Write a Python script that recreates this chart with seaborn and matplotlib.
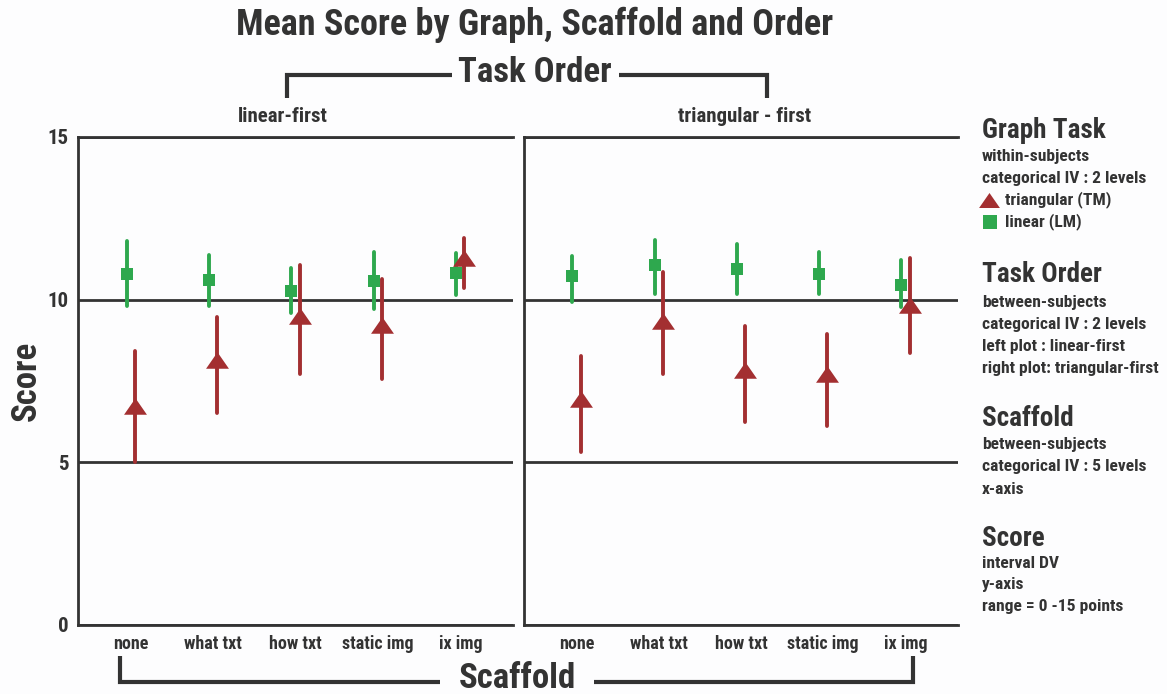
import numpy as np
import pandas as pd
import matplotlib
matplotlib.use("Agg")
import matplotlib.pyplot as plt
import seaborn as sns
from matplotlib.lines import Line2D

# ---------------- data ----------------
scaffolds = ["none", "what txt", "how txt", "static img", "ix img"]
orders = ["linear-first", "triangular - first"]
graphs = ["linear", "triangular"]

# linear-first panel
lin_mean_L = [10.80, 10.60, 10.27, 10.56, 10.83]
lin_low_L = [9.82, 9.82, 9.58, 9.70, 10.15]
lin_high_L = [11.79, 11.37, 10.96, 11.45, 11.43]
tri_mean_L = [6.73, 8.15, 9.50, 9.22, 11.27]
tri_low_L = [5.00, 6.51, 7.70, 7.56, 10.36]
tri_high_L = [8.41, 9.46, 11.06, 10.62, 11.89]

# triangular-first panel
lin_mean_R = [10.72, 11.08, 10.93, 10.78, 10.46]
lin_low_R = [9.92, 10.16, 10.16, 10.16, 9.77]
lin_high_R = [11.34, 11.84, 11.71, 11.45, 11.22]
tri_mean_R = [6.94, 9.33, 7.83, 7.73, 9.84]
tri_low_R = [5.31, 7.71, 6.25, 6.12, 8.36]
tri_high_R = [8.28, 10.85, 9.19, 8.93, 11.27]

yticks = [0, 5, 10, 15]

# ---------------- build long-form table ----------------
rows = []
series = {
    (orders[0], "linear"): (lin_low_L, lin_mean_L, lin_high_L),
    (orders[0], "triangular"): (tri_low_L, tri_mean_L, tri_high_L),
    (orders[1], "linear"): (lin_low_R, lin_mean_R, lin_high_R),
    (orders[1], "triangular"): (tri_low_R, tri_mean_R, tri_high_R),
}
for (o, g), (lo, mid, hi) in series.items():
    for s, a, b, c in zip(scaffolds, lo, mid, hi):
        for v in (a, b, c):
            rows.append({"order": o, "graph": g, "scaffold": s, "score": v})
df = pd.DataFrame(rows)

# ---------------- style ----------------
sns.set_theme(style="white")
plt.rcParams["font.family"] = ["Roboto Condensed", "IBM Plex Sans Condensed", "DejaVu Sans"]
plt.rcParams["font.weight"] = "bold"
TXT = "#333333"
GREEN = "#2ea84e"
RED = "#a32f31"
palette = {"linear": GREEN, "triangular": RED}

W, H = 1167, 694
fig = plt.figure(figsize=(W / 100, H / 100), dpi=100)
fig.patch.set_facecolor("#fdfdfe")


def fx(x):
    return x / W


def fy(y):
    return 1 - y / H


tri_verts = [(-1, -0.72), (1, -0.72), (0, 0.72), (-1, -0.72)]

panels = [(78, 513), (524, 958)]
title_x = [(283 - 78) / 435, (745 - 524) / 434]
top_px, bot_px = 137, 625
axes = []
for i, (o, (x0, x1)) in enumerate(zip(orders, panels)):
    ax = fig.add_axes([fx(x0), fy(bot_px), fx(x1 - x0), (bot_px - top_px) / H])
    ax.set_facecolor("#fdfdfe")
    axes.append(ax)
    sns.pointplot(
        data=df[df["order"] == o], x="scaffold", y="score", hue="graph",
        order=scaffolds, hue_order=graphs, palette=palette,
        markers=["s", "^"], linestyle="none", estimator="median",
        errorbar=("pi", 100), dodge=0.1, err_kws={"linewidth": 2.8},
        legend=False, ax=ax, markeredgewidth=0,
    )
    for ln in ax.lines:
        m = ln.get_marker()
        if m == "^":
            ln.set_marker(tri_verts)
            ln.set_markersize(16.5)
        elif m == "s":
            ln.set_markersize(8.8)
    ax.set_xlim(-0.64, 4.64)
    ax.set_ylim(0, 15)
    ax.set_yticks(yticks)
    ax.yaxis.grid(True, color=TXT, linewidth=2)
    ax.set_axisbelow(True)
    for sp in ["left", "top", "bottom"]:
        ax.spines[sp].set_visible(True)
        ax.spines[sp].set_color(TXT)
        ax.spines[sp].set_linewidth(2)
    ax.spines["right"].set_visible(False)
    ax.tick_params(length=0, colors=TXT)
    ax.tick_params(axis="x", labelsize=13, pad=7)
    ax.tick_params(axis="y", labelsize=15, pad=7)
    for lab in ax.get_xticklabels() + ax.get_yticklabels():
        lab.set_fontweight("bold")
    ax.set_xlabel("")
    ax.set_title(o, fontsize=15, fontweight="bold", color=TXT, pad=11)
    ax.title.set_x(title_x[i])
    if i == 0:
        ax.set_ylabel("Score", fontsize=25, fontweight="heavy", color=TXT)
        ax.yaxis.set_label_coords(-0.08, 0.5)
    else:
        ax.set_ylabel("")
        ax.set_yticklabels([])

# ---------------- titles & brackets ----------------
fig.text(fx(535), fy(25), "Mean Score by Graph, Scaffold and Order", ha="center", va="center",
         fontsize=26, fontweight="heavy", color=TXT)
fig.text(fx(535), fy(73), "Task Order", ha="center", va="center",
         fontsize=25, fontweight="heavy", color=TXT)
fig.text(fx(517), fy(678), "Scaffold", ha="center", va="center",
         fontsize=25, fontweight="heavy", color=TXT)


def seg(xs, ys):
    fig.add_artist(Line2D([fx(x) for x in xs], [fy(y) for y in ys], color=TXT,
                          linewidth=3, solid_capstyle="butt", solid_joinstyle="miter"))


seg([287, 287, 452], [98, 75, 75])
seg([619, 767, 767], [75, 75, 98])
seg([120, 120, 440], [656, 682, 682])
seg([594, 913, 913], [682, 682, 656])

# ---------------- right-hand annotation ----------------
X0 = 982
blocks = [
    (130, "Graph Task", [(156, "within-subjects"), (178, "categorical IV : 2 levels")]),
    (275, "Task Order", [(303, "between-subjects"), (325, "categorical IV : 2 levels"),
                         (347, "left plot : linear-first"), (369, "right plot: triangular-first")]),
    (418, "Scaffold", [(445, "between-subjects"), (467, "categorical IV : 5 levels"), (489, "x-axis")]),
    (538, "Score", [(563, "interval DV"), (585, "y-axis"), (607, "range = 0 -15 points")]),
]
for hy, head, subs in blocks:
    fig.text(fx(X0), fy(hy), head, ha="left", va="center", fontsize=19.5, fontweight="bold", color=TXT)
    for sy, s in subs:
        fig.text(fx(X0), fy(sy), s, ha="left", va="center", fontsize=12.6, fontweight="bold", color=TXT)

fig.add_artist(Line2D([fx(989)], [fy(200)], marker=tri_verts, markersize=15, color=RED,
                      markeredgewidth=0, linestyle="none"))
fig.add_artist(Line2D([fx(990)], [fy(222)], marker="s", markersize=9.5, color=GREEN,
                      markeredgewidth=0, linestyle="none"))
fig.text(fx(1005), fy(200), "triangular (TM)", ha="left", va="center", fontsize=12.6,
         fontweight="bold", color=TXT)
fig.text(fx(1005), fy(222), "linear (LM)", ha="left", va="center", fontsize=12.6,
         fontweight="bold", color=TXT)

fig.savefig("out.png", dpi=100, facecolor=fig.get_facecolor())
